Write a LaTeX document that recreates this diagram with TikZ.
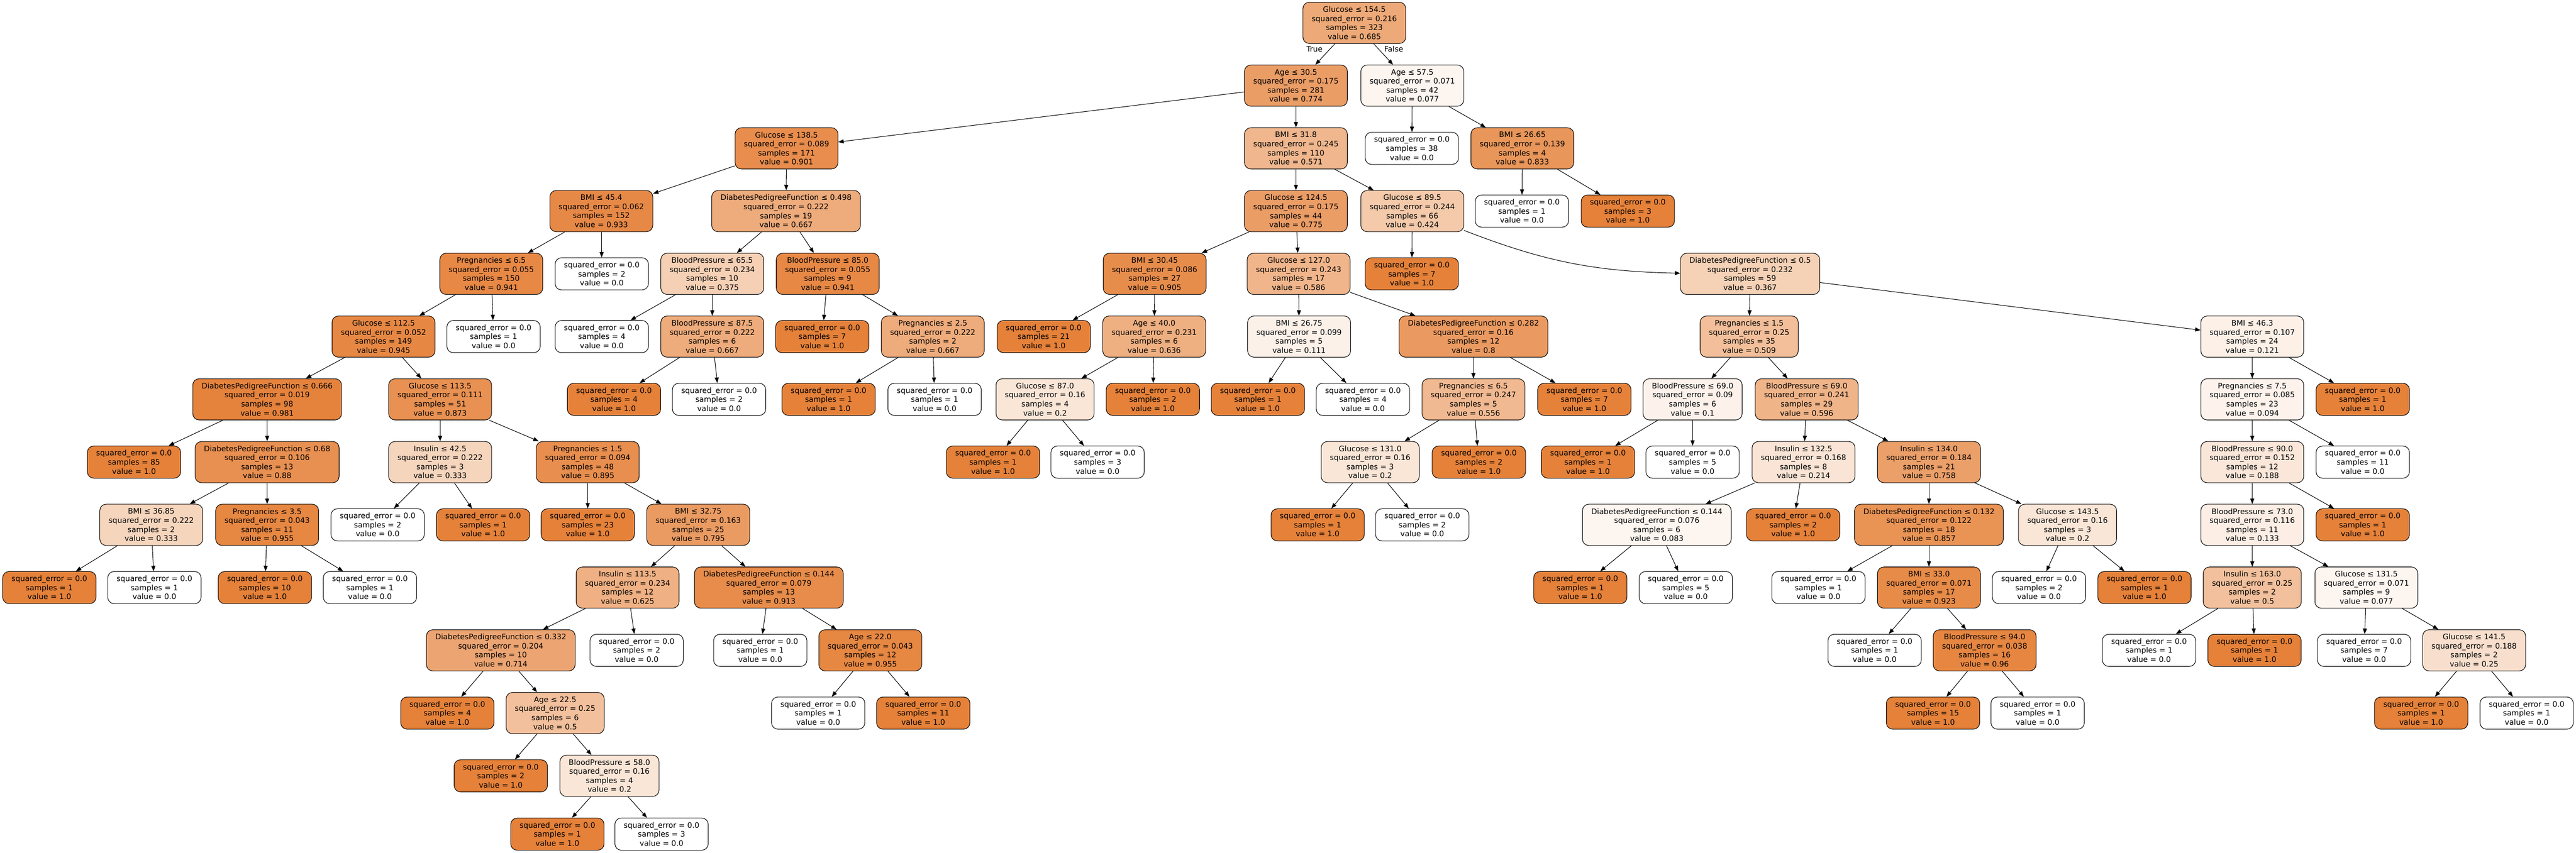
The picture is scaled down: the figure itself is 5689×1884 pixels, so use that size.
\documentclass[tikz,border=0pt]{standalone}
\usepackage{fontspec}
\setmainfont{DejaVu Sans}
\usetikzlibrary{arrows.meta}
\definecolor{dtorange}{HTML}{E58139}

\begin{document}
\begin{tikzpicture}[
            x=0.5pt, y=-0.5pt,
            split_node/.style={rectangle, rounded corners=7pt, draw=black, line width=0.6pt, align=center,
                font=\fontsize{8.33pt}{10pt}\selectfont, inner xsep=9.75pt, inner ysep=0pt, minimum height=45.5pt},
            leaf_node/.style={split_node, minimum height=35.5pt},
            val/.style={fill=dtorange!#1!white},
            tree_edge/.style={-{Triangle[length=6pt, width=4.5pt]}, line width=0.6pt},
            branch_label/.style={font=\fontsize{8.33pt}{10pt}\selectfont}
        ]
        \useasboundingbox (0,0) rectangle (5689,1884);

        % Root and first split
        \node[split_node, val=68.5] (n0) at (2991,50.5) {Glucose ≤ 154.5\\squared\_error = 0.216\\samples = 323\\value = 0.685};
        \node[split_node, val=77.4] (n1) at (2862,189.1) {Age ≤ 30.5\\squared\_error = 0.175\\samples = 281\\value = 0.774};
        \node[split_node, val=7.7] (n2) at (3119,189.1) {Age ≤ 57.5\\squared\_error = 0.071\\samples = 42\\value = 0.077};
        \node[branch_label] (lbl_true) at (2903,108.5) {True};
        \node[branch_label] (lbl_false) at (3078,108.5) {False};

        % Depth 2
        \node[split_node, val=90.1] (n3) at (1737,327.7) {Glucose ≤ 138.5\\squared\_error = 0.089\\samples = 171\\value = 0.901};
        \node[split_node, val=57.1] (n4) at (2862,327.7) {BMI ≤ 31.8\\squared\_error = 0.245\\samples = 110\\value = 0.571};
        \node[leaf_node, val=0] (n5) at (3118,327.7) {squared\_error = 0.0\\samples = 38\\value = 0.0};
        \node[split_node, val=83.3] (n6) at (3362,327.7) {BMI ≤ 26.65\\squared\_error = 0.139\\samples = 4\\value = 0.833};

        % Depth 3
        \node[split_node, val=93.3] (n7) at (1328,466.3) {BMI ≤ 45.4\\squared\_error = 0.062\\samples = 152\\value = 0.933};
        \node[split_node, val=66.7] (n8) at (1736,466.3) {DiabetesPedigreeFunction ≤ 0.498\\squared\_error = 0.222\\samples = 19\\value = 0.667};
        \node[split_node, val=77.5] (n9) at (2862,466.3) {Glucose ≤ 124.5\\squared\_error = 0.175\\samples = 44\\value = 0.775};
        \node[split_node, val=42.4] (n10) at (3119,466.3) {Glucose ≤ 89.5\\squared\_error = 0.244\\samples = 66\\value = 0.424};
        \node[leaf_node, val=0] (n11) at (3361,466.3) {squared\_error = 0.0\\samples = 1\\value = 0.0};
        \node[leaf_node, val=100] (n12) at (3595,466.3) {squared\_error = 0.0\\samples = 3\\value = 1.0};

        % Depth 4
        \node[split_node, val=94.1] (n13) at (1085,604.9) {Pregnancies ≤ 6.5\\squared\_error = 0.055\\samples = 150\\value = 0.941};
        \node[leaf_node, val=0] (n14) at (1329,604.9) {squared\_error = 0.0\\samples = 2\\value = 0.0};
        \node[split_node, val=37.5] (n15) at (1573,604.9) {BloodPressure ≤ 65.5\\squared\_error = 0.234\\samples = 10\\value = 0.375};
        \node[split_node, val=94.1] (n16) at (1828,604.9) {BloodPressure ≤ 85.0\\squared\_error = 0.055\\samples = 9\\value = 0.941};
        \node[split_node, val=90.5] (n17) at (2550,604.9) {BMI ≤ 30.45\\squared\_error = 0.086\\samples = 27\\value = 0.905};
        \node[split_node, val=58.6] (n18) at (2868,604.9) {Glucose ≤ 127.0\\squared\_error = 0.243\\samples = 17\\value = 0.586};
        \node[leaf_node, val=100] (n19) at (3118,604.9) {squared\_error = 0.0\\samples = 7\\value = 1.0};
        \node[split_node, val=36.7] (n20) at (3865,604.9) {DiabetesPedigreeFunction ≤ 0.5\\squared\_error = 0.232\\samples = 59\\value = 0.367};

        % Depth 5
        \node[split_node, val=94.5] (n21) at (847,743.5) {Glucose ≤ 112.5\\squared\_error = 0.052\\samples = 149\\value = 0.945};
        \node[leaf_node, val=0] (n22) at (1090,743.5) {squared\_error = 0.0\\samples = 1\\value = 0.0};
        \node[leaf_node, val=0] (n23) at (1329,743.5) {squared\_error = 0.0\\samples = 4\\value = 0.0};
        \node[split_node, val=66.7] (n24) at (1573,743.5) {BloodPressure ≤ 87.5\\squared\_error = 0.222\\samples = 6\\value = 0.667};
        \node[leaf_node, val=100] (n25) at (1816,743.5) {squared\_error = 0.0\\samples = 7\\value = 1.0};
        \node[split_node, val=66.7] (n26) at (2060,743.5) {Pregnancies ≤ 2.5\\squared\_error = 0.222\\samples = 2\\value = 0.667};
        \node[leaf_node, val=100] (n27) at (2305,743.5) {squared\_error = 0.0\\samples = 21\\value = 1.0};
        \node[split_node, val=63.6] (n28) at (2549,743.5) {Age ≤ 40.0\\squared\_error = 0.231\\samples = 6\\value = 0.636};
        \node[split_node, val=11.1] (n29) at (2869,743.5) {BMI ≤ 26.75\\squared\_error = 0.099\\samples = 5\\value = 0.111};
        \node[split_node, val=80] (n30) at (3254,743.5) {DiabetesPedigreeFunction ≤ 0.282\\squared\_error = 0.16\\samples = 12\\value = 0.8};
        \node[split_node, val=50.9] (n31) at (3863,743.5) {Pregnancies ≤ 1.5\\squared\_error = 0.25\\samples = 35\\value = 0.509};
        \node[split_node, val=12.1] (n32) at (4974,743.5) {BMI ≤ 46.3\\squared\_error = 0.107\\samples = 24\\value = 0.121};

        % Depth 6
        \node[split_node, val=98.1] (n33) at (590,882.1) {DiabetesPedigreeFunction ≤ 0.666\\squared\_error = 0.019\\samples = 98\\value = 0.981};
        \node[split_node, val=87.3] (n34) at (972,882.1) {Glucose ≤ 113.5\\squared\_error = 0.111\\samples = 51\\value = 0.873};
        \node[leaf_node, val=100] (n35) at (1356,882.1) {squared\_error = 0.0\\samples = 4\\value = 1.0};
        \node[leaf_node, val=0] (n36) at (1588,882.1) {squared\_error = 0.0\\samples = 2\\value = 0.0};
        \node[leaf_node, val=100] (n37) at (1830,882.1) {squared\_error = 0.0\\samples = 1\\value = 1.0};
        \node[leaf_node, val=0] (n38) at (2064,882.1) {squared\_error = 0.0\\samples = 1\\value = 0.0};
        \node[split_node, val=20] (n39) at (2308,882.1) {Glucose ≤ 87.0\\squared\_error = 0.16\\samples = 4\\value = 0.2};
        \node[leaf_node, val=100] (n40) at (2546,882.1) {squared\_error = 0.0\\samples = 2\\value = 1.0};
        \node[leaf_node, val=100] (n41) at (2778,882.1) {squared\_error = 0.0\\samples = 1\\value = 1.0};
        \node[leaf_node, val=0] (n42) at (3010,882.1) {squared\_error = 0.0\\samples = 4\\value = 0.0};
        \node[split_node, val=55.6] (n43) at (3254,882.1) {Pregnancies ≤ 6.5\\squared\_error = 0.247\\samples = 5\\value = 0.556};
        \node[leaf_node, val=100] (n44) at (3499,882.1) {squared\_error = 0.0\\samples = 7\\value = 1.0};
        \node[split_node, val=10] (n45) at (3738,882.1) {BloodPressure ≤ 69.0\\squared\_error = 0.09\\samples = 6\\value = 0.1};
        \node[split_node, val=59.6] (n46) at (3990,882.1) {BloodPressure ≤ 69.0\\squared\_error = 0.241\\samples = 29\\value = 0.596};
        \node[split_node, val=9.4] (n47) at (4974,882.1) {Pregnancies ≤ 7.5\\squared\_error = 0.085\\samples = 23\\value = 0.094};
        \node[leaf_node, val=100] (n48) at (5218,882.1) {squared\_error = 0.0\\samples = 1\\value = 1.0};

        % Depth 7
        \node[leaf_node, val=100] (n49) at (296,1020.7) {squared\_error = 0.0\\samples = 85\\value = 1.0};
        \node[split_node, val=88] (n50) at (590,1020.7) {DiabetesPedigreeFunction ≤ 0.68\\squared\_error = 0.106\\samples = 13\\value = 0.88};
        \node[split_node, val=33.3] (n51) at (972,1020.7) {Insulin ≤ 42.5\\squared\_error = 0.222\\samples = 3\\value = 0.333};
        \node[split_node, val=89.5] (n52) at (1298,1020.7) {Pregnancies ≤ 1.5\\squared\_error = 0.094\\samples = 48\\value = 0.895};
        \node[leaf_node, val=100] (n53) at (2193,1020.7) {squared\_error = 0.0\\samples = 1\\value = 1.0};
        \node[leaf_node, val=0] (n54) at (2424,1020.7) {squared\_error = 0.0\\samples = 3\\value = 0.0};
        \node[split_node, val=20] (n55) at (3026,1020.7) {Glucose ≤ 131.0\\squared\_error = 0.16\\samples = 3\\value = 0.2};
        \node[leaf_node, val=100] (n56) at (3266,1020.7) {squared\_error = 0.0\\samples = 2\\value = 1.0};
        \node[leaf_node, val=100] (n57) at (3507,1020.7) {squared\_error = 0.0\\samples = 1\\value = 1.0};
        \node[leaf_node, val=0] (n58) at (3738,1020.7) {squared\_error = 0.0\\samples = 5\\value = 0.0};
        \node[split_node, val=21.4] (n59) at (3983,1020.7) {Insulin ≤ 132.5\\squared\_error = 0.168\\samples = 8\\value = 0.214};
        \node[split_node, val=75.8] (n60) at (4260,1020.7) {Insulin ≤ 134.0\\squared\_error = 0.184\\samples = 21\\value = 0.758};
        \node[split_node, val=18.8] (n61) at (4974,1020.7) {BloodPressure ≤ 90.0\\squared\_error = 0.152\\samples = 12\\value = 0.188};
        \node[leaf_node, val=0] (n62) at (5218,1020.7) {squared\_error = 0.0\\samples = 11\\value = 0.0};

        % Depth 8
        \node[split_node, val=33.3] (n63) at (334,1159.3) {BMI ≤ 36.85\\squared\_error = 0.222\\samples = 2\\value = 0.333};
        \node[split_node, val=95.5] (n64) at (590,1159.3) {Pregnancies ≤ 3.5\\squared\_error = 0.043\\samples = 11\\value = 0.955};
        \node[leaf_node, val=0] (n65) at (834,1159.3) {squared\_error = 0.0\\samples = 2\\value = 0.0};
        \node[leaf_node, val=100] (n66) at (1067,1159.3) {squared\_error = 0.0\\samples = 1\\value = 1.0};
        \node[leaf_node, val=100] (n67) at (1298,1159.3) {squared\_error = 0.0\\samples = 23\\value = 1.0};
        \node[split_node, val=79.5] (n68) at (1542,1159.3) {BMI ≤ 32.75\\squared\_error = 0.163\\samples = 25\\value = 0.795};
        \node[leaf_node, val=100] (n69) at (2910,1159.3) {squared\_error = 0.0\\samples = 1\\value = 1.0};
        \node[leaf_node, val=0] (n70) at (3141,1159.3) {squared\_error = 0.0\\samples = 2\\value = 0.0};
        \node[split_node, val=8.3] (n71) at (3659,1159.3) {DiabetesPedigreeFunction ≤ 0.144\\squared\_error = 0.076\\samples = 6\\value = 0.083};
        \node[leaf_node, val=100] (n72) at (3960,1159.3) {squared\_error = 0.0\\samples = 2\\value = 1.0};
        \node[split_node, val=85.7] (n73) at (4260,1159.3) {DiabetesPedigreeFunction ≤ 0.132\\squared\_error = 0.122\\samples = 18\\value = 0.857};
        \node[split_node, val=20] (n74) at (4566,1159.3) {Glucose ≤ 143.5\\squared\_error = 0.16\\samples = 3\\value = 0.2};
        \node[split_node, val=13.3] (n75) at (4974,1159.3) {BloodPressure ≤ 73.0\\squared\_error = 0.116\\samples = 11\\value = 0.133};
        \node[leaf_node, val=100] (n76) at (5218,1159.3) {squared\_error = 0.0\\samples = 1\\value = 1.0};

        % Depth 9
        \node[leaf_node, val=100] (n77) at (109,1297.9) {squared\_error = 0.0\\samples = 1\\value = 1.0};
        \node[leaf_node, val=0] (n78) at (341,1297.9) {squared\_error = 0.0\\samples = 1\\value = 0.0};
        \node[leaf_node, val=100] (n79) at (585,1297.9) {squared\_error = 0.0\\samples = 10\\value = 1.0};
        \node[leaf_node, val=0] (n80) at (817,1297.9) {squared\_error = 0.0\\samples = 1\\value = 0.0};
        \node[split_node, val=62.5] (n81) at (1386,1297.9) {Insulin ≤ 113.5\\squared\_error = 0.234\\samples = 12\\value = 0.625};
        \node[split_node, val=91.3] (n82) at (1698,1297.9) {DiabetesPedigreeFunction ≤ 0.144\\squared\_error = 0.079\\samples = 13\\value = 0.913};
        \node[leaf_node, val=100] (n83) at (3490,1297.9) {squared\_error = 0.0\\samples = 1\\value = 1.0};
        \node[leaf_node, val=0] (n84) at (3723,1297.9) {squared\_error = 0.0\\samples = 5\\value = 0.0};
        \node[leaf_node, val=0] (n85) at (4016,1297.9) {squared\_error = 0.0\\samples = 1\\value = 0.0};
        \node[split_node, val=92.3] (n86) at (4260,1297.9) {BMI ≤ 33.0\\squared\_error = 0.071\\samples = 17\\value = 0.923};
        \node[leaf_node, val=0] (n87) at (4503,1297.9) {squared\_error = 0.0\\samples = 2\\value = 0.0};
        \node[leaf_node, val=100] (n88) at (4736,1297.9) {squared\_error = 0.0\\samples = 1\\value = 1.0};
        \node[split_node, val=50] (n89) at (4974,1297.9) {Insulin ≤ 163.0\\squared\_error = 0.25\\samples = 2\\value = 0.5};
        \node[split_node, val=7.7] (n90) at (5226,1297.9) {Glucose ≤ 131.5\\squared\_error = 0.071\\samples = 9\\value = 0.077};

        % Depth 10
        \node[split_node, val=71.4] (n91) at (1106,1436.5) {DiabetesPedigreeFunction ≤ 0.332\\squared\_error = 0.204\\samples = 10\\value = 0.714};
        \node[leaf_node, val=0] (n92) at (1406,1436.5) {squared\_error = 0.0\\samples = 2\\value = 0.0};
        \node[leaf_node, val=0] (n93) at (1679,1436.5) {squared\_error = 0.0\\samples = 1\\value = 0.0};
        \node[split_node, val=95.5] (n94) at (1922,1436.5) {Age ≤ 22.0\\squared\_error = 0.043\\samples = 12\\value = 0.955};
        \node[leaf_node, val=0] (n95) at (4140,1436.5) {squared\_error = 0.0\\samples = 1\\value = 0.0};
        \node[split_node, val=96] (n96) at (4383,1436.5) {BloodPressure ≤ 94.0\\squared\_error = 0.038\\samples = 16\\value = 0.96};
        \node[leaf_node, val=0] (n97) at (4746,1436.5) {squared\_error = 0.0\\samples = 1\\value = 0.0};
        \node[leaf_node, val=100] (n98) at (4979,1436.5) {squared\_error = 0.0\\samples = 1\\value = 1.0};
        \node[leaf_node, val=0] (n99) at (5221,1436.5) {squared\_error = 0.0\\samples = 7\\value = 0.0};
        \node[split_node, val=25] (n100) at (5464,1436.5) {Glucose ≤ 141.5\\squared\_error = 0.188\\samples = 2\\value = 0.25};

        % Depth 11 to 13
        \node[leaf_node, val=100] (n101) at (988,1575.1) {squared\_error = 0.0\\samples = 4\\value = 1.0};
        \node[split_node, val=50] (n102) at (1226,1575.1) {Age ≤ 22.5\\squared\_error = 0.25\\samples = 6\\value = 0.5};
        \node[leaf_node, val=0] (n103) at (1807,1575.1) {squared\_error = 0.0\\samples = 1\\value = 0.0};
        \node[leaf_node, val=100] (n104) at (2039,1575.1) {squared\_error = 0.0\\samples = 11\\value = 1.0};
        \node[leaf_node, val=100] (n105) at (4269,1575.1) {squared\_error = 0.0\\samples = 15\\value = 1.0};
        \node[leaf_node, val=0] (n106) at (4500,1575.1) {squared\_error = 0.0\\samples = 1\\value = 0.0};
        \node[leaf_node, val=100] (n107) at (5347,1575.1) {squared\_error = 0.0\\samples = 1\\value = 1.0};
        \node[leaf_node, val=0] (n108) at (5580,1575.1) {squared\_error = 0.0\\samples = 1\\value = 0.0};
        \node[leaf_node, val=100] (n109) at (1106,1713.7) {squared\_error = 0.0\\samples = 2\\value = 1.0};
        \node[split_node, val=20] (n110) at (1346,1713.7) {BloodPressure ≤ 58.0\\squared\_error = 0.16\\samples = 4\\value = 0.2};
        \node[leaf_node, val=100] (n111) at (1231,1842.5) {squared\_error = 0.0\\samples = 1\\value = 1.0};
        \node[leaf_node, val=0] (n112) at (1461,1842.5) {squared\_error = 0.0\\samples = 3\\value = 0.0};

        % Edges
        \draw[tree_edge] (n0) -- (n1); \draw[tree_edge] (n0) -- (n2);
        \draw[tree_edge] (n1) -- (n3); \draw[tree_edge] (n1) -- (n4);
        \draw[tree_edge] (n2) -- (n5); \draw[tree_edge] (n2) -- (n6);
        \draw[tree_edge] (n3) -- (n7); \draw[tree_edge] (n3) -- (n8);
        \draw[tree_edge] (n4) -- (n9); \draw[tree_edge] (n4) -- (n10);
        \draw[tree_edge] (n6) -- (n11); \draw[tree_edge] (n6) -- (n12);
        \draw[tree_edge] (n7) -- (n13); \draw[tree_edge] (n7) -- (n14);
        \draw[tree_edge] (n8) -- (n15); \draw[tree_edge] (n8) -- (n16);
        \draw[tree_edge] (n9) -- (n17); \draw[tree_edge] (n9) -- (n18);
        \draw[tree_edge] (n10) -- (n19); \draw[tree_edge] (n10) to[bend right=10] (n20);
        \draw[tree_edge] (n13) -- (n21); \draw[tree_edge] (n13) -- (n22);
        \draw[tree_edge] (n15) -- (n23); \draw[tree_edge] (n15) -- (n24);
        \draw[tree_edge] (n16) -- (n25); \draw[tree_edge] (n16) -- (n26);
        \draw[tree_edge] (n17) -- (n27); \draw[tree_edge] (n17) -- (n28);
        \draw[tree_edge] (n18) -- (n29); \draw[tree_edge] (n18) -- (n30);
        \draw[tree_edge] (n20) -- (n31); \draw[tree_edge] (n20) -- (n32);
        \draw[tree_edge] (n21) -- (n33); \draw[tree_edge] (n21) -- (n34);
        \draw[tree_edge] (n24) -- (n35); \draw[tree_edge] (n24) -- (n36);
        \draw[tree_edge] (n26) -- (n37); \draw[tree_edge] (n26) -- (n38);
        \draw[tree_edge] (n28) -- (n39); \draw[tree_edge] (n28) -- (n40);
        \draw[tree_edge] (n29) -- (n41); \draw[tree_edge] (n29) -- (n42);
        \draw[tree_edge] (n30) -- (n43); \draw[tree_edge] (n30) -- (n44);
        \draw[tree_edge] (n31) -- (n45); \draw[tree_edge] (n31) -- (n46);
        \draw[tree_edge] (n32) -- (n47); \draw[tree_edge] (n32) -- (n48);
        \draw[tree_edge] (n33) -- (n49); \draw[tree_edge] (n33) -- (n50);
        \draw[tree_edge] (n34) -- (n51); \draw[tree_edge] (n34) -- (n52);
        \draw[tree_edge] (n39) -- (n53); \draw[tree_edge] (n39) -- (n54);
        \draw[tree_edge] (n43) -- (n55); \draw[tree_edge] (n43) -- (n56);
        \draw[tree_edge] (n45) -- (n57); \draw[tree_edge] (n45) -- (n58);
        \draw[tree_edge] (n46) -- (n59); \draw[tree_edge] (n46) -- (n60);
        \draw[tree_edge] (n47) -- (n61); \draw[tree_edge] (n47) -- (n62);
        \draw[tree_edge] (n50) -- (n63); \draw[tree_edge] (n50) -- (n64);
        \draw[tree_edge] (n51) -- (n65); \draw[tree_edge] (n51) -- (n66);
        \draw[tree_edge] (n52) -- (n67); \draw[tree_edge] (n52) -- (n68);
        \draw[tree_edge] (n55) -- (n69); \draw[tree_edge] (n55) -- (n70);
        \draw[tree_edge] (n59) -- (n71); \draw[tree_edge] (n59) -- (n72);
        \draw[tree_edge] (n60) -- (n73); \draw[tree_edge] (n60) -- (n74);
        \draw[tree_edge] (n61) -- (n75); \draw[tree_edge] (n61) -- (n76);
        \draw[tree_edge] (n63) -- (n77); \draw[tree_edge] (n63) -- (n78);
        \draw[tree_edge] (n64) -- (n79); \draw[tree_edge] (n64) -- (n80);
        \draw[tree_edge] (n68) -- (n81); \draw[tree_edge] (n68) -- (n82);
        \draw[tree_edge] (n71) -- (n83); \draw[tree_edge] (n71) -- (n84);
        \draw[tree_edge] (n73) -- (n85); \draw[tree_edge] (n73) -- (n86);
        \draw[tree_edge] (n74) -- (n87); \draw[tree_edge] (n74) -- (n88);
        \draw[tree_edge] (n75) -- (n89); \draw[tree_edge] (n75) -- (n90);
        \draw[tree_edge] (n81) -- (n91); \draw[tree_edge] (n81) -- (n92);
        \draw[tree_edge] (n82) -- (n93); \draw[tree_edge] (n82) -- (n94);
        \draw[tree_edge] (n86) -- (n95); \draw[tree_edge] (n86) -- (n96);
        \draw[tree_edge] (n89) -- (n97); \draw[tree_edge] (n89) -- (n98);
        \draw[tree_edge] (n90) -- (n99); \draw[tree_edge] (n90) -- (n100);
        \draw[tree_edge] (n91) -- (n101); \draw[tree_edge] (n91) -- (n102);
        \draw[tree_edge] (n94) -- (n103); \draw[tree_edge] (n94) -- (n104);
        \draw[tree_edge] (n96) -- (n105); \draw[tree_edge] (n96) -- (n106);
        \draw[tree_edge] (n100) -- (n107); \draw[tree_edge] (n100) -- (n108);
        \draw[tree_edge] (n102) -- (n109); \draw[tree_edge] (n102) -- (n110);
        \draw[tree_edge] (n110) -- (n111); \draw[tree_edge] (n110) -- (n112);

    \end{tikzpicture}
\end{document}
